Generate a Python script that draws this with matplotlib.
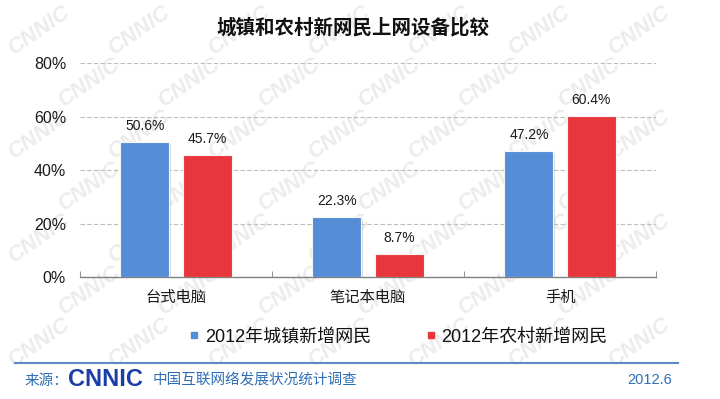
import matplotlib
matplotlib.use("Agg")
import matplotlib.pyplot as plt
from matplotlib.lines import Line2D
import matplotlib.patheffects as pe
import numpy as np

plt.rcParams['font.family'] = ['Liberation Sans', 'Noto Sans CJK SC', 'DejaVu Sans']

categories = ['台式电脑', '笔记本电脑', '手机']
urban = [50.6, 22.3, 47.2]
rural = [45.7, 8.7, 60.4]
series_names = ['2012年城镇新增网民', '2012年农村新增网民']
yticks = [0, 20, 40, 60, 80]
ytick_labels = ['0%', '20%', '40%', '60%', '80%']
title = '城镇和农村新网民上网设备比较'
source_label = '来源：'
source_logo = 'CNNIC'
source_text = '中国互联网络发展状况统计调查'
date_text = '2012.6'
watermark = 'CNNIC'

blue = '#558DD6'
red = '#E8363C'
footer_blue = '#2F6EB5'

W, H = 720, 399
fig = plt.figure(figsize=(7.2, 3.99), dpi=100)
fig.patch.set_facecolor('white')

# faint tiled watermark, kept inside the canvas
for r, py in enumerate(np.arange(30, 372, 52)):
    for px in np.arange(40 + (r % 2) * 50, 684, 100):
        fig.text(px / W, 1 - py / H, watermark, fontsize=16, fontweight='bold', color='#ECECEC',
                 rotation=35, ha='center', va='center', zorder=0, fontstyle='italic')

ax = fig.add_axes([80/W, 1-277/H, 576/W, (277-63.3)/H])
ax.set_facecolor('none')
ax.set_zorder(2)

x = np.arange(len(categories))
w = 0.255
off = 0.162
shadow = [pe.SimplePatchShadow(offset=(1.2, -1.2), shadow_rgbFace='#999999', alpha=0.35), pe.Normal()]
b1 = ax.bar(x - off, urban, w, color=blue, edgecolor='#F4F7FB', linewidth=0.8, zorder=3)
b2 = ax.bar(x + off, rural, w, color=red, edgecolor='#FBF2F2', linewidth=0.8, zorder=3)
for b in list(b1) + list(b2):
    b.set_path_effects(shadow)

for xi, v in zip(x - off, urban):
    ax.text(xi, v + 6.0, f'{v:.1f}%', ha='center', va='center', fontsize=10, color='#1a1a1a', zorder=4)
for xi, v in zip(x + off, rural):
    ax.text(xi, v + 6.0, f'{v:.1f}%', ha='center', va='center', fontsize=10, color='#1a1a1a', zorder=4)

ax.set_xlim(-0.5, 2.5)
ax.set_ylim(0, 80)
ax.set_yticks(yticks)
ax.set_yticklabels(ytick_labels, fontsize=11.5, color='#1a1a1a')
ax.yaxis.grid(True, linestyle=(0, (4, 2)), color='#BDBDBD', linewidth=0.8, zorder=0)
ax.set_axisbelow(True)
ax.tick_params(axis='y', length=0, pad=10)
ax.set_xticks(x)
ax.set_xticklabels(categories, fontsize=11, color='#1a1a1a')
ax.set_xticks([-0.5, 0.5, 1.5, 2.5], minor=True)
ax.tick_params(axis='x', which='major', length=0, pad=10)
ax.tick_params(axis='x', which='minor', length=4, direction='in', color='#808080')
for s in ['top', 'right', 'left']:
    ax.spines[s].set_visible(False)
ax.spines['bottom'].set_color('#808080')
ax.spines['bottom'].set_linewidth(1.0)

fig.text(353/W, 1-28/H, title, fontsize=14, fontweight='bold', ha='center', va='center',
         family=['Noto Sans CJK SC'], color='#111111', zorder=3)

handles = [Line2D([], [], marker='s', linestyle='none', markersize=4.5, color=blue),
           Line2D([], [], marker='s', linestyle='none', markersize=4.5, color=red)]
leg = fig.legend(handles, series_names, loc='center', bbox_to_anchor=(398/W, 1-337/H),
                 ncol=2, frameon=False, fontsize=13, handlelength=0.6, handletextpad=0.3,
                 columnspacing=3.0)
for t in leg.get_texts():
    t.set_color('#111111')

fig.add_artist(Line2D([15/W, 678/W], [1-363/H, 1-363/H], color='#5B8BC9', linewidth=1.5, zorder=3))
fig.text(25/W, 1-381/H, source_label, fontsize=10.5, color=footer_blue, ha='left', va='center', zorder=3)
fig.text(68/W, 1-380/H, source_logo, fontsize=17, fontweight='bold', color='#1B3FA6',
         ha='left', va='center', family=['Liberation Sans Narrow', 'Liberation Sans'], zorder=3)
fig.text(153/W, 1-381/H, source_text, fontsize=10.5, color=footer_blue, ha='left', va='center', zorder=3)
fig.text(672/W, 1-380/H, date_text, fontsize=10.5, color=footer_blue, ha='right', va='center', zorder=3)

fig.savefig('out.png', dpi=100, facecolor='white')
